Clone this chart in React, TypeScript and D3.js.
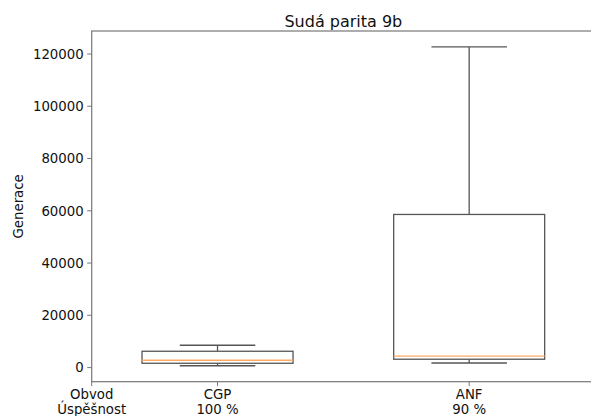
import React from "react";
import * as d3 from "d3";

// values
const circuits = ["CGP", "ANF"];
const success = ["100 %", "90 %"];
const whiskerLow = [700, 1750];
const q1 = [1650, 3200];
const median = [2800, 4400];
const q3 = [6250, 58600];
const whiskerHigh = [8550, 122700];
const yTicks = [0, 20000, 40000, 60000, 80000, 100000, 120000];
const title = "Sudá parita 9b";
const yLabel = "Generace";
const rowLabels = ["Obvod", "Úspěšnost"];

const W = 591;
const H = 416;
const margin = { top: 31, right: -4, bottom: 34.3, left: 91.7 };
const font = "'DejaVu Sans', sans-serif";
const lineColor = "#555";
const spineColor = "#777";

const App = () => {
  const x = d3
    .scaleLinear()
    .domain([0.5, 2.5])
    .range([margin.left, W - margin.right]);

  // matplotlib-like 5% padding around the data
  const lo = d3.min(whiskerLow) as number;
  const hi = d3.max(whiskerHigh) as number;
  const pad = (hi - lo) * 0.05;
  const y = d3
    .scaleLinear()
    .domain([lo - pad, hi + pad])
    .range([H - margin.bottom, margin.top]);

  const boxHalf = x(1.3) - x(1);
  const capHalf = x(1.15) - x(1);
  const left = x(0.5);
  const right = x(2.5);
  const top = y.range()[1];
  const bottom = y.range()[0];

  // first x tick (at the left edge) carries the row names
  const xTicks = [
    { pos: 0.5, lines: rowLabels },
    ...circuits.map((c, i) => ({ pos: i + 1, lines: [c, success[i]] })),
  ];

  return (
    <svg
      width={W}
      height={H}
      style={{ position: "absolute", left: 0, top: 0, background: "#fff" }}
      fontFamily={font}
    >
      {/* title */}
      <text x={(left + right) / 2} y={27} textAnchor="middle" fontSize={16} fill="#111">
        {title}
      </text>

      {/* boxes */}
      {circuits.map((c, i) => {
        const cx = x(i + 1);
        return (
          <g key={c} fill="none" strokeWidth={1.3}>
            <line x1={cx} x2={cx} y1={y(q3[i])} y2={y(whiskerHigh[i])} stroke={lineColor} />
            <line x1={cx} x2={cx} y1={y(q1[i])} y2={y(whiskerLow[i])} stroke={lineColor} />
            <line x1={cx - capHalf} x2={cx + capHalf} y1={y(whiskerHigh[i])} y2={y(whiskerHigh[i])} stroke={lineColor} />
            <line x1={cx - capHalf} x2={cx + capHalf} y1={y(whiskerLow[i])} y2={y(whiskerLow[i])} stroke={lineColor} />
            <rect
              x={cx - boxHalf}
              y={y(q3[i])}
              width={boxHalf * 2}
              height={y(q1[i]) - y(q3[i])}
              stroke={lineColor}
            />
            <line x1={cx - boxHalf} x2={cx + boxHalf} y1={y(median[i])} y2={y(median[i])} stroke="#fdab62" />
          </g>
        );
      })}

      {/* spines */}
      <rect x={left} y={top} width={right - left} height={bottom - top} fill="none" stroke={spineColor} strokeWidth={1.2} />

      {/* y axis */}
      {yTicks.map((t) => (
        <g key={t}>
          <line x1={left - 4.5} x2={left} y1={y(t)} y2={y(t)} stroke={spineColor} strokeWidth={1} />
          <text x={left - 8} y={y(t)} dy="0.36em" textAnchor="end" fontSize={13.3} fill="#111">
            {d3.format("d")(t)}
          </text>
        </g>
      ))}
      <text
        transform={`translate(23,${(top + bottom) / 2}) rotate(-90)`}
        textAnchor="middle"
        fontSize={13.3}
        fill="#111"
      >
        {yLabel}
      </text>

      {/* x axis */}
      {xTicks.map((t, i) => {
        const tx = x(t.pos);
        return (
          <g key={i}>
            <line x1={tx} x2={tx} y1={bottom} y2={bottom + 4.5} stroke={spineColor} strokeWidth={1} />
            {t.lines.map((s, k) => (
              <text key={k} x={tx} y={bottom + 17 + k * 15} textAnchor="middle" fontSize={13.3} fill="#111">
                {s}
              </text>
            ))}
          </g>
        );
      })}
    </svg>
  );
};

export default App;
